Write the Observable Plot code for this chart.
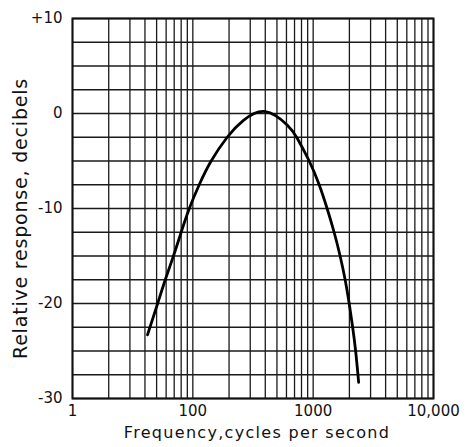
<!DOCTYPE html>
<html><head><meta charset="utf-8">
<script src="https://cdn.jsdelivr.net/npm/d3@7"></script>
<script src="https://cdn.jsdelivr.net/npm/@observablehq/plot@0.6"></script>
<style>body{margin:0;background:#fff}</style>
</head><body><div id="chart"></div>
<script>
// Frequency (cycles per second) and relative response (dB)
const freq = [42, 51, 59, 69, 80, 93.5, 113, 142, 193, 262, 400, 608, 737, 927, 1122, 1306, 1493, 1675, 1844, 1992, 2129, 2254, 2388];
const db   = [-23.3, -20, -17.5, -15, -12.5, -10, -7.5, -5, -2.5, -0.75, 0.2, -1.2, -2.6, -5, -7.5, -10, -12.5, -15, -17.5, -20, -22.5, -25, -28.3];

const xTicks = [10, 100, 1000, 10000];
const xTickLabels = ["1", "100", "1000", "10,000"];
const yTicks = [-30, -20, -10, 0, 10];
const yTickLabels = ["-30", "-20", "-10", "0", "+10"];
const xTitle = "Frequency,cycles per second";
const yTitle = "Relative response, decibels";

const xGrid = [10, 20, 30, 40, 50, 60, 70, 80, 90,
               100, 200, 300, 400, 500, 600, 700, 800, 900,
               1000, 2000, 3000, 4000, 5000, 6000, 7000, 8000, 9000, 10000];
const yGrid = [-30, -27.5, -25, -22.5, -20, -17.5, -15, -12.5, -10, -7.5, -5, -2.5, 0, 2.5, 5, 7.5, 10];

const data = freq.map((f, i) => ({f, db: db[i]}));

const chart = Plot.plot({
  width: 467, height: 447,
  marginLeft: 72, marginRight: 34, marginTop: 18, marginBottom: 49,
  style: {fontFamily: "'DejaVu Sans', sans-serif", fontSize: "15px", color: "#111", background: "#fff"},
  x: {type: "log", domain: [10, 10000]},
  y: {domain: [-30, 10]},
  marks: [
    Plot.ruleX(xGrid, {stroke: "#1a1a1a", strokeWidth: 1.3}),
    Plot.ruleY(yGrid, {stroke: "#1a1a1a", strokeWidth: 1.4}),
    Plot.frame({stroke: "#111", strokeWidth: 2}),
    Plot.line(data, {x: "f", y: "db", curve: "natural", stroke: "#000", strokeWidth: 2.8}),
    Plot.axisX({
      ticks: xTicks, tickFormat: d => xTickLabels[xTicks.indexOf(d)],
      tickSize: 0, tickPadding: 7, fontSize: 15, label: null
    }),
    Plot.axisY({
      ticks: yTicks, tickFormat: d => yTickLabels[yTicks.indexOf(d)],
      tickSize: 0, tickPadding: 10, fontSize: 15, label: null
    }),
    Plot.text([xTitle], {frameAnchor: "bottom", text: d => d, textAnchor: "middle", lineAnchor: "middle",
      dx: 4, dy: 34, fontSize: 16, fill: "#111"}),
    Plot.text([yTitle], {frameAnchor: "left", text: d => d, textAnchor: "middle", lineAnchor: "middle",
      rotate: -90, dx: -52, dy: 10, fontSize: 19, fill: "#111"})
  ]
});
d3.select(chart).selectAll("text").filter(function() { return this.textContent === xTitle; })
  .attr("letter-spacing", "1.3px");
d3.select(chart).selectAll("text").filter(function() { return this.textContent === yTitle; })
  .attr("letter-spacing", "0.8px");
document.getElementById("chart").append(chart);
</script>
</body></html>
